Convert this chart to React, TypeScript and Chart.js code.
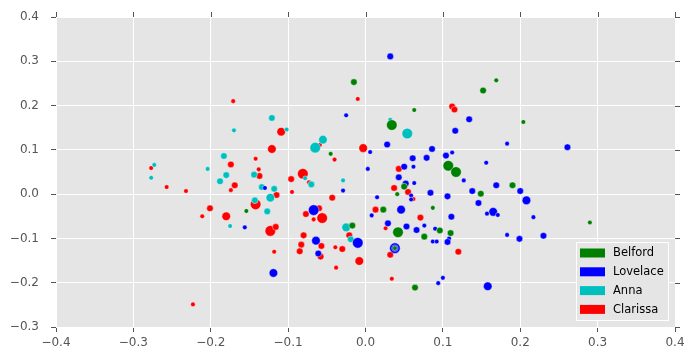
import React, { useEffect, useRef } from "react";
import { Chart, registerables } from "chart.js";
Chart.register(...registerables);

const seriesNames = ["Belford", "Lovelace", "Anna", "Clarissa"];
const seriesColors = ["#008000", "#0000ff", "#00bfbf", "#ff0000"];

const belfordX = [-0.154,-0.045,-0.017,-0.015,0.063,0.169,0.152,0.034,0.107,0.117,0.050,0.041,0.023,0.042,0.076,0.096,0.110,0.087,0.149,0.190,0.204,0.290,0.064,0.038];
const belfordY = [-0.038,0.091,-0.071,0.253,0.190,0.257,0.234,0.156,0.064,0.050,0.017,0.000,-0.035,-0.086,-0.096,-0.082,-0.088,-0.031,0.001,0.020,0.163,-0.064,-0.211,-0.122];
const belfordSize = [1,1,2,2,1,1,2,4,4,4,2,1,2,4,2,2,2,1,2,2,1,1,2,1];

const lovelaceX = [0.032,-0.025,0.134,0.116,0.183,0.261,0.028,0.006,0.086,0.061,0.079,0.104,0.112,0.156,0.003,0.050,0.062,0.043,0.052,0.063,0.059,0.059,0.084,0.127,0.138,0.106,0.146,0.169,0.200,0.208,0.165,0.157,0.171,0.217,0.183,0.199,0.230,0.046,0.015,0.008,0.111,0.029,0.053,0.066,0.076,0.090,0.108,0.087,0.092,0.106,0.038,0.038,0.100,0.094,0.158,-0.010,-0.064,-0.061,-0.067,-0.029,-0.119,-0.156,-0.130];
const lovelaceY = [0.311,0.178,0.169,0.143,0.114,0.106,0.112,0.095,0.102,0.081,0.082,0.087,0.094,0.071,0.057,0.062,0.062,0.038,0.024,0.025,-0.003,-0.012,0.003,0.031,0.007,-0.005,-0.020,0.020,0.007,-0.014,-0.040,-0.044,-0.047,-0.052,-0.092,-0.101,-0.094,-0.035,-0.007,-0.048,-0.051,-0.066,-0.073,-0.081,-0.071,-0.078,-0.100,-0.107,-0.107,-0.108,-0.122,-0.122,-0.189,-0.201,-0.208,-0.110,-0.105,-0.134,-0.036,0.008,-0.178,-0.075,0.014];
const lovelaceSize = [2,1,2,2,1,2,2,1,2,2,2,2,1,1,1,2,1,2,2,1,1,1,2,1,2,2,2,2,2,3,3,1,1,1,1,2,2,3,1,1,2,2,2,2,1,1,1,1,1,2,4,2,1,1,3,4,3,2,4,1,3,1,1];

const annaX = [-0.121,-0.170,-0.102,-0.183,-0.273,-0.204,-0.180,-0.144,-0.277,-0.188,-0.134,-0.118,-0.123,-0.143,-0.127,-0.175,-0.065,-0.055,-0.078,-0.070,-0.029,-0.025,-0.019,0.032,0.054];
const annaY = [0.172,0.144,0.146,0.086,0.066,0.057,0.043,0.044,0.037,0.029,0.016,0.012,-0.008,-0.014,-0.039,-0.072,0.105,0.123,0.036,0.022,0.031,-0.075,-0.102,0.168,0.137];
const annaSize = [2,1,1,2,1,1,2,2,1,2,2,2,3,2,2,1,4,3,1,2,1,3,2,1,4];

const clarissaX = [-0.171,-0.109,-0.121,-0.142,-0.174,-0.277,-0.138,-0.081,-0.137,-0.169,-0.174,-0.257,-0.232,-0.096,-0.095,-0.115,-0.142,-0.201,-0.211,-0.180,-0.123,-0.116,-0.077,-0.080,-0.083,-0.085,-0.118,-0.223,-0.073,-0.059,-0.040,-0.003,-0.010,-0.043,0.013,-0.060,-0.067,-0.056,-0.057,-0.058,-0.039,-0.030,-0.038,-0.008,-0.021,0.026,0.032,0.034,0.120,0.071,0.043,0.037,0.055,0.062,0.112,0.115];
const clarissaY = [0.210,0.141,0.102,0.080,0.067,0.059,0.056,0.046,0.041,0.020,0.009,0.016,0.007,0.034,0.005,-0.002,-0.023,-0.032,-0.050,-0.050,-0.083,-0.074,-0.045,-0.093,-0.114,-0.129,-0.130,-0.249,0.027,0.111,0.078,0.104,0.215,-0.008,-0.035,-0.032,-0.057,-0.054,-0.117,-0.141,-0.120,-0.124,-0.166,-0.151,-0.093,-0.077,-0.137,-0.191,-0.130,-0.053,0.057,0.014,0.005,-0.011,0.198,0.191];
const clarissaSize = [1,3,3,1,2,1,1,4,2,2,1,1,1,2,1,2,4,2,1,3,4,2,2,2,2,2,1,1,1,1,1,3,1,2,2,2,1,4,2,2,1,2,1,3,2,1,2,1,2,2,2,2,2,1,2,2];

const xTicks = [-0.4, -0.3, -0.2, -0.1, 0.0, 0.1, 0.2, 0.3, 0.4];
const yTicks = [-0.3, -0.2, -0.1, 0.0, 0.1, 0.2, 0.3, 0.4];

const seriesX = [belfordX, lovelaceX, annaX, clarissaX];
const seriesY = [belfordY, lovelaceY, annaY, clarissaY];
const seriesSize = [belfordSize, lovelaceSize, annaSize, clarissaSize];

const fmt = (v: number) => {
  if (Math.abs(v) < 1e-9) return "0.0";
  return (v < 0 ? "\u2212" : "") + Math.abs(v).toFixed(1);
};

const TICK_COLOR = "#555555";
const TICK_LEN = 5;

const bgPlugin = {
  id: "plotBg",
  beforeDraw(chart: any) {
    const { ctx, chartArea } = chart;
    ctx.save();
    ctx.fillStyle = "#e5e5e5";
    ctx.fillRect(chartArea.left, chartArea.top, chartArea.right - chartArea.left, chartArea.bottom - chartArea.top);
    ctx.restore();
  },
  afterDraw(chart: any) {
    const { ctx, chartArea, scales } = chart;
    ctx.save();
    ctx.strokeStyle = TICK_COLOR;
    ctx.lineWidth = 1;
    ctx.beginPath();
    for (const v of xTicks) {
      const px = Math.round(scales.x.getPixelForValue(v)) + 0.5;
      ctx.moveTo(px, chartArea.top);
      ctx.lineTo(px, chartArea.top - TICK_LEN);
    }
    for (const v of yTicks) {
      const py = Math.round(scales.y.getPixelForValue(v)) + 0.5;
      ctx.moveTo(chartArea.right, py);
      ctx.lineTo(chartArea.right + TICK_LEN, py);
    }
    ctx.stroke();

    // legend box in lower right of plot
    const boxW = 93, boxH = 79;
    const x0 = chartArea.right - 6 - boxW;
    const y0 = chartArea.bottom - 6 - boxH;
    ctx.fillStyle = "#e5e5e5";
    ctx.fillRect(x0, y0, boxW, boxH);
    ctx.strokeStyle = "#ffffff";
    ctx.strokeRect(x0 + 0.5, y0 + 0.5, boxW - 1, boxH - 1);
    ctx.font = '11.5px "DejaVu Sans"';
    ctx.textBaseline = "middle";
    ctx.textAlign = "left";
    seriesNames.forEach((name, i) => {
      const cy = y0 + 11 + i * 18.8;
      ctx.fillStyle = seriesColors[i];
      ctx.fillRect(x0 + 4, cy - 4.5, 25, 9);
      ctx.fillStyle = "#000000";
      ctx.fillText(name, x0 + 37, cy + 0.5);
    });
    ctx.restore();
  },
};

export default function App() {
  const ref = useRef<HTMLCanvasElement | null>(null);
  useEffect(() => {
    document.body.style.margin = "0";
    const canvas = ref.current!;
    const datasets = seriesNames.map((name, i) => ({
      label: name,
      data: seriesX[i].map((x, j) => ({ x, y: seriesY[i][j] })),
      backgroundColor: seriesColors[i],
      borderColor: "rgba(255,255,255,0.7)",
      borderWidth: 0.6,
      pointRadius: (c: any) => 1.3 + seriesSize[i][c.dataIndex],
      pointHoverRadius: (c: any) => 1.3 + seriesSize[i][c.dataIndex],
    }));
    const chart = new Chart(canvas, {
      type: "scatter",
      data: { datasets },
      plugins: [bgPlugin],
      options: {
        responsive: false,
        animation: false,
        devicePixelRatio: 1,
        layout: { padding: { left: 0, top: 17, right: 20, bottom: 0 } },
        plugins: { legend: { display: false }, tooltip: { enabled: false } },
        scales: {
          x: {
            type: "linear",
            min: -0.4,
            max: 0.4,
            afterBuildTicks: (s: any) => { s.ticks = xTicks.map((v) => ({ value: v })); },
            afterFit: (s: any) => { s.height = 35; s.paddingLeft = 0; s.paddingRight = 0; },
            border: { display: false },
            grid: { color: "#ffffff", lineWidth: 1, drawTicks: true, tickLength: TICK_LEN, tickColor: TICK_COLOR },
            ticks: {
              callback: (v: any) => fmt(Number(v)),
              color: TICK_COLOR,
              font: { family: "DejaVu Sans", size: 12 },
              padding: 4,
              maxRotation: 0,
              autoSkip: false,
            },
          },
          y: {
            type: "linear",
            min: -0.3,
            max: 0.4,
            afterBuildTicks: (s: any) => { s.ticks = yTicks.map((v) => ({ value: v })); },
            afterFit: (s: any) => { s.width = 56; s.paddingTop = 0; s.paddingBottom = 0; },
            border: { display: false },
            grid: { color: "#ffffff", lineWidth: 1, drawTicks: true, tickLength: TICK_LEN, tickColor: TICK_COLOR },
            ticks: {
              callback: (v: any) => fmt(Number(v)),
              color: TICK_COLOR,
              font: { family: "DejaVu Sans", size: 12 },
              padding: 12,
              autoSkip: false,
            },
          },
        },
      },
    });
    return () => chart.destroy();
  }, []);
  return <canvas ref={ref} width={695} height={362} style={{ display: "block", width: 695, height: 362 }} />;
}
